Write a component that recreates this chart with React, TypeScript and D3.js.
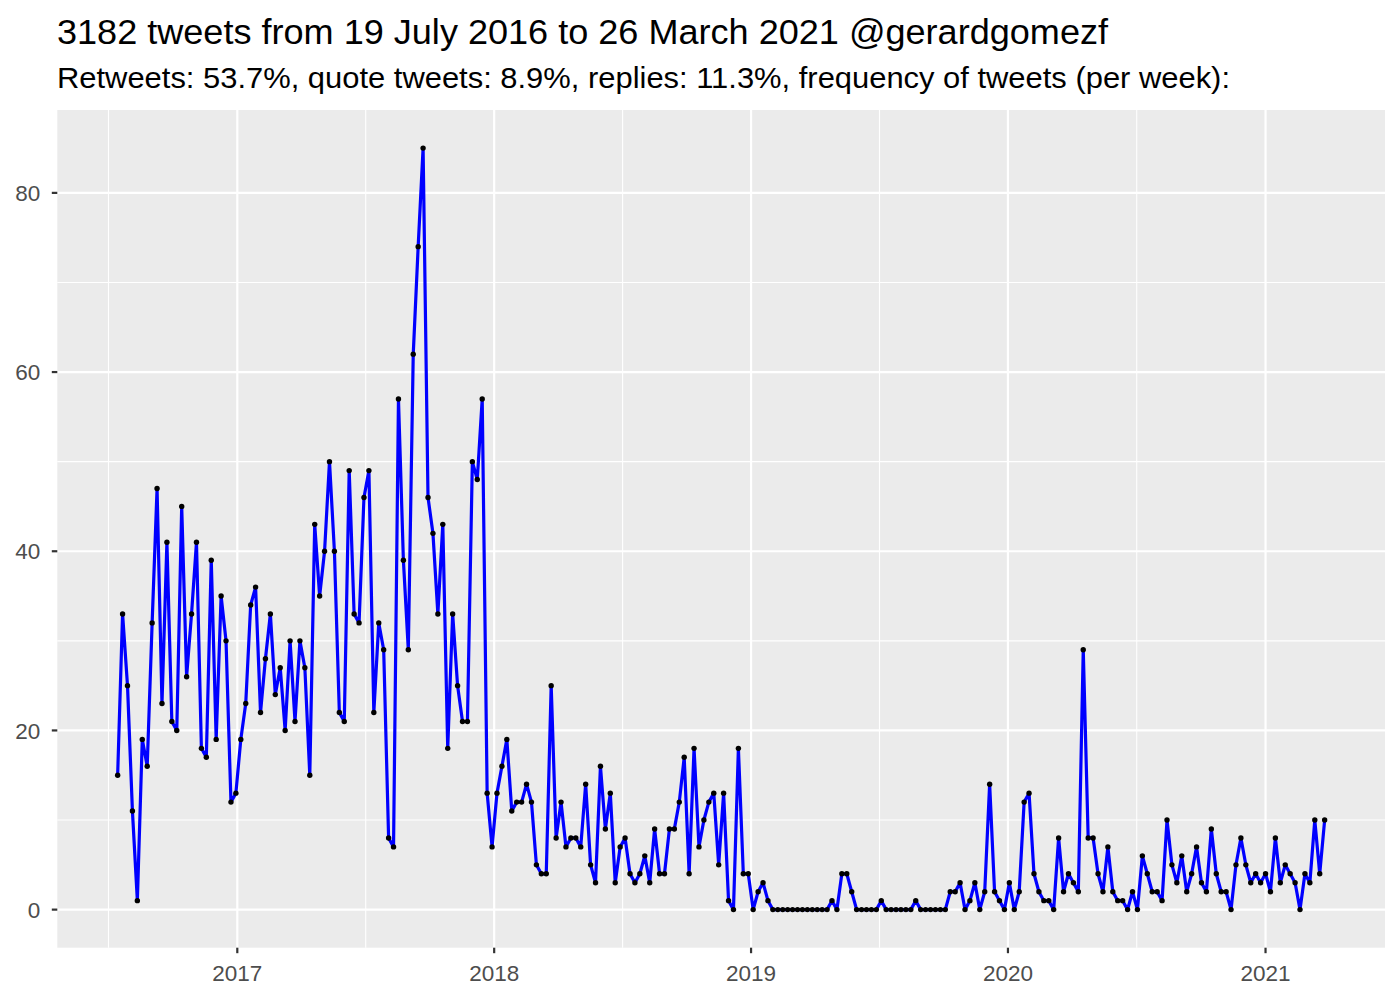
import React from "react";
import * as d3 from "d3";

const TITLE = "3182 tweets from 19 July 2016 to 26 March 2021 @gerardgomezf";
const SUBTITLE =
  "Retweets: 53.7%, quote tweets: 8.9%, replies: 11.3%, frequency of tweets (per week):";

const FIRST_WEEK = "2016-07-15";

const weeklyCounts: number[] = [
  15, 33, 25, 11, 1, 19, 16, 32, 47, 23,
  41, 21, 20, 45, 26, 33, 41, 18, 17, 39,
  19, 35, 30, 12, 13, 19, 23, 34, 36, 22,
  28, 33, 24, 27, 20, 30, 21, 30, 27, 15,
  43, 35, 40, 50, 40, 22, 21, 49, 33, 32,
  46, 49, 22, 32, 29, 8, 7, 57, 39, 29,
  62, 74, 85, 46, 42, 33, 43, 18, 33, 25,
  21, 21, 50, 48, 57, 13, 7, 13, 16, 19,
  11, 12, 12, 14, 12, 5, 4, 4, 25, 8,
  12, 7, 8, 8, 7, 14, 5, 3, 16, 9,
  13, 3, 7, 8, 4, 3, 4, 6, 3, 9,
  4, 4, 9, 9, 12, 17, 4, 18, 7, 10,
  12, 13, 5, 13, 1, 0, 18, 4, 4, 0,
  2, 3, 1, 0, 0, 0, 0, 0, 0, 0,
  0, 0, 0, 0, 0, 1, 0, 4, 4, 2,
  0, 0, 0, 0, 0, 1, 0, 0, 0, 0,
  0, 0, 1, 0, 0, 0, 0, 0, 0, 2,
  2, 3, 0, 1, 3, 0, 2, 14, 2, 1,
  0, 3, 0, 2, 12, 13, 4, 2, 1, 1,
  0, 8, 2, 4, 3, 2, 29, 8, 8, 4,
  2, 7, 2, 1, 1, 0, 2, 0, 6, 4,
  2, 2, 1, 10, 5, 3, 6, 2, 4, 7,
  3, 2, 9, 4, 2, 2, 0, 5, 8, 5,
  3, 4, 3, 4, 2, 8, 3, 5, 4, 3,
  0, 4, 3, 10, 4, 10,
];

const yMajorTicks = [0, 20, 40, 60, 80];
const yMinorTicks = [10, 30, 50, 70];
const xTickYears = [2017, 2018, 2019, 2020, 2021];

export default function App() {
  const W = 1400;
  const H = 1000;
  const left = 57.3;
  const right = 1385;
  const top = 110;
  const bottom = 947.7;

  const start = new Date(FIRST_WEEK + "T00:00:00Z");
  const data = weeklyCounts.map((v, i) => ({
    date: d3.utcDay.offset(start, i * 7),
    value: v,
  }));

  const [d0, d1] = d3.extent(data, (d) => d.date) as [Date, Date];
  const span = +d1 - +d0;
  const x = d3
    .scaleUtc()
    .domain([new Date(+d0 - span * 0.05), new Date(+d1 + span * 0.05)])
    .range([left, right]);

  const maxV = d3.max(weeklyCounts) as number;
  const y = d3
    .scaleLinear()
    .domain([-maxV * 0.05, maxV * 1.05])
    .range([bottom, top]);

  const majorDates = xTickYears.map((yr) => new Date(Date.UTC(yr, 0, 1)));
  const allYears = d3.range(2015, 2023).map((yr) => new Date(Date.UTC(yr, 0, 1)));
  const minorDates: Date[] = [];
  for (let i = 0; i < allYears.length - 1; i++) {
    const m = new Date((+allYears[i] + +allYears[i + 1]) / 2);
    const [a, b] = x.domain();
    if (+m >= +a && +m <= +b) minorDates.push(m);
  }

  const line = d3
    .line<{ date: Date; value: number }>()
    .x((d) => x(d.date))
    .y((d) => y(d.value));

  const font = "'Liberation Sans', Arial, Helvetica, sans-serif";

  return (
    <svg width={W} height={H} style={{ display: "block", position: "absolute", left: 0, top: 0 }} fontFamily={font}>
      <rect x={0} y={0} width={W} height={H} fill="#ffffff" />
      <text x={57} y={44} fontSize={35.5} fill="#000000" textLength={1051} lengthAdjust="spacingAndGlyphs">
        {TITLE}
      </text>
      <text x={57} y={88} fontSize={30} fill="#000000" textLength={1173} lengthAdjust="spacingAndGlyphs">
        {SUBTITLE}
      </text>
      <rect x={left} y={top} width={right - left} height={bottom - top} fill="#ebebeb" />
      {yMinorTicks.map((t) => (
        <line key={"ym" + t} x1={left} x2={right} y1={y(t)} y2={y(t)} stroke="#ffffff" strokeWidth={1.1} />
      ))}
      {minorDates.map((d, i) => (
        <line key={"xm" + i} x1={x(d)} x2={x(d)} y1={top} y2={bottom} stroke="#ffffff" strokeWidth={1.1} />
      ))}
      {yMajorTicks.map((t) => (
        <line key={"yM" + t} x1={left} x2={right} y1={y(t)} y2={y(t)} stroke="#ffffff" strokeWidth={2.2} />
      ))}
      {majorDates.map((d, i) => (
        <line key={"xM" + i} x1={x(d)} x2={x(d)} y1={top} y2={bottom} stroke="#ffffff" strokeWidth={2.2} />
      ))}
      <path d={line(data) || ""} fill="none" stroke="#0000ff" strokeWidth={3.2} strokeLinejoin="round" />
      {data.map((d, i) => (
        <circle key={"p" + i} cx={x(d.date)} cy={y(d.value)} r={2.7} fill="#000000" />
      ))}
      {yMajorTicks.map((t) => (
        <g key={"yt" + t}>
          <line x1={left - 5.5} x2={left} y1={y(t)} y2={y(t)} stroke="#333333" strokeWidth={2.2} />
          <text x={left - 17} y={y(t)} dy="0.36em" textAnchor="end" fontSize={22.5} fill="#4d4d4d">
            {t}
          </text>
        </g>
      ))}
      {majorDates.map((d, i) => (
        <g key={"xt" + i}>
          <line x1={x(d)} x2={x(d)} y1={bottom} y2={bottom + 5.5} stroke="#333333" strokeWidth={2.2} />
          <text x={x(d)} y={bottom + 33} textAnchor="middle" fontSize={22.5} fill="#4d4d4d">
            {d3.utcFormat("%Y")(d)}
          </text>
        </g>
      ))}
    </svg>
  );
}
